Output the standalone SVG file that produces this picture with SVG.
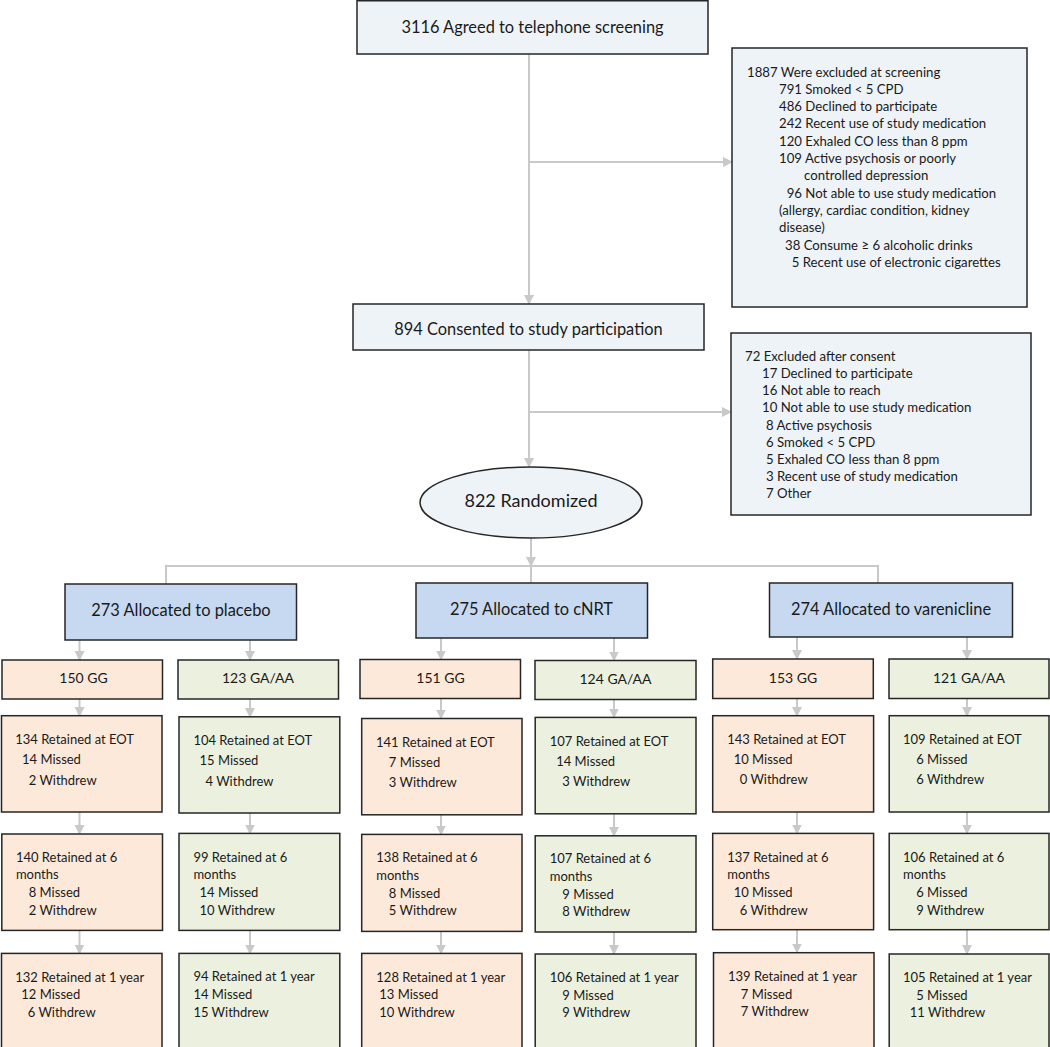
<svg xmlns="http://www.w3.org/2000/svg" width="1050" height="1047" viewBox="0 0 1050 1047">
<style>
  text { font-family: Lato, "Open Sans", "Liberation Sans", sans-serif; fill: #1a1a1a; }
  .box { stroke: #262626; stroke-width: 1.5; }
  .pale { fill: #eef3f8; }
  .alloc { fill: #c6d9f1; }
  .gg { fill: #fde9d9; }
  .ga { fill: #ebf1de; }
  .h { font-size: 16.4px; text-anchor: middle; }
  .m { font-size: 14px; text-anchor: middle; }
  .s { font-size: 13.2px; }
  .l { font-size: 13px; }
  .conn { stroke: #c9c9c9; stroke-width: 2; fill: none; }
</style>
<defs>
  <marker id="arr" markerUnits="userSpaceOnUse" markerWidth="10" markerHeight="10" refX="9" refY="5" orient="auto" viewBox="0 0 10 10">
    <path d="M0,0 L10,5 L0,10 z" fill="#c9c9c9"/>
  </marker>
</defs>

<g id="connectors">
  <path class="conn" d="M529,54 V304" marker-end="url(#arr)"/>
  <path class="conn" d="M529,162 H732" marker-end="url(#arr)"/>
  <path class="conn" d="M529,350 V467" marker-end="url(#arr)"/>
  <path class="conn" d="M529,412 H731" marker-end="url(#arr)"/>
  <path class="conn" d="M531,538 V566" marker-end="url(#arr)"/>
  <path class="conn" d="M166,584 V566 H878 V583"/>
  <path class="conn" d="M531,566 V583"/>
  <path class="conn" d="M79.5,640 V660" marker-end="url(#arr)"/>
  <path class="conn" d="M250,640 V660" marker-end="url(#arr)"/>
  <path class="conn" d="M441,638 V659.5" marker-end="url(#arr)"/>
  <path class="conn" d="M614,638 V660.5" marker-end="url(#arr)"/>
  <path class="conn" d="M797,637 V659" marker-end="url(#arr)"/>
  <path class="conn" d="M967,637 V659" marker-end="url(#arr)"/>
  <path class="conn" d="M79.5,699 V716" marker-end="url(#arr)"/>
  <path class="conn" d="M250,699 V717" marker-end="url(#arr)"/>
  <path class="conn" d="M441,698.5 V718.5" marker-end="url(#arr)"/>
  <path class="conn" d="M614,699.5 V717.5" marker-end="url(#arr)"/>
  <path class="conn" d="M797,698.5 V716" marker-end="url(#arr)"/>
  <path class="conn" d="M967,698.5 V716" marker-end="url(#arr)"/>
  <path class="conn" d="M79.5,812 V834" marker-end="url(#arr)"/>
  <path class="conn" d="M250,813 V833.5" marker-end="url(#arr)"/>
  <path class="conn" d="M441,815 V834.5" marker-end="url(#arr)"/>
  <path class="conn" d="M614,814 V836" marker-end="url(#arr)"/>
  <path class="conn" d="M797,812 V833.5" marker-end="url(#arr)"/>
  <path class="conn" d="M967,812 V833.5" marker-end="url(#arr)"/>
  <path class="conn" d="M79.5,930.5 V953.5" marker-end="url(#arr)"/>
  <path class="conn" d="M250,930.5 V953.5" marker-end="url(#arr)"/>
  <path class="conn" d="M441,931.5 V953.5" marker-end="url(#arr)"/>
  <path class="conn" d="M614,932 V954" marker-end="url(#arr)"/>
  <path class="conn" d="M797,930 V952.5" marker-end="url(#arr)"/>
  <path class="conn" d="M967,930 V954" marker-end="url(#arr)"/>
</g>

<g id="screening">
  <rect class="box pale" x="357" y="0.75" width="351" height="53.25"/>
  <text class="h" x="532.5" y="33">3116 Agreed to telephone screening</text>
</g>

<g id="excluded-screening">
  <rect class="box pale" x="732" y="48" width="295" height="259"/>
  <text class="s" x="747" y="76.5">1887 Were excluded at screening</text>
  <text class="s" x="779" y="93.8">791 Smoked &lt; 5 CPD</text>
  <text class="s" x="779" y="111.1">486 Declined to participate</text>
  <text class="s" x="779" y="128.4">242 Recent use of study medication</text>
  <text class="s" x="779" y="145.7">120 Exhaled CO less than 8 ppm</text>
  <text class="s" x="779" y="163">109 Active psychosis or poorly</text>
  <text class="s" x="804" y="180.3">controlled depression</text>
  <text class="s" x="786.7" y="197.6">96 Not able to use study medication</text>
  <text class="s" x="779" y="214.9">(allergy, cardiac condition, kidney</text>
  <text class="s" x="779" y="232.2">disease)</text>
  <text class="s" x="785" y="249.5">38 Consume ≥ 6 alcoholic drinks</text>
  <text class="s" x="791.7" y="266.8">5 Recent use of electronic cigarettes</text>
</g>

<g id="consented">
  <rect class="box pale" x="353" y="304" width="351" height="46"/>
  <text class="h" x="528.5" y="335">894 Consented to study participation</text>
</g>

<g id="excluded-consent">
  <rect class="box pale" x="731" y="333" width="300" height="182"/>
  <text class="s" x="745" y="360.7">72 Excluded after consent</text>
  <text class="s" x="762" y="377.9">17 Declined to participate</text>
  <text class="s" x="762" y="395.1">16 Not able to reach</text>
  <text class="s" x="762" y="412.3">10 Not able to use study medication</text>
  <text class="s" x="766" y="429.5">8 Active psychosis</text>
  <text class="s" x="766" y="446.7">6 Smoked &lt; 5 CPD</text>
  <text class="s" x="766" y="463.9">5 Exhaled CO less than 8 ppm</text>
  <text class="s" x="766" y="481.1">3 Recent use of study medication</text>
  <text class="s" x="766" y="498.3">7 Other</text>
</g>

<g id="randomized">
  <ellipse class="box pale" cx="531" cy="502.5" rx="111" ry="35.5"/>
  <text class="h" x="531" y="506.5" style="font-size:18px">822 Randomized</text>
</g>

<g id="placebo">
  <rect class="box alloc" x="65" y="584" width="231.5" height="56"/>
  <text class="h" x="181" y="616">273 Allocated to placebo</text>
</g>
<g id="cnrt">
  <rect class="box alloc" x="416" y="583" width="231.5" height="55"/>
  <text class="h" x="531.5" y="615">275 Allocated to cNRT</text>
</g>
<g id="varenicline">
  <rect class="box alloc" x="769.5" y="583" width="243" height="54"/>
  <text class="h" x="891" y="614.5">274 Allocated to varenicline</text>
</g>

<g id="placebo-gg">
  <rect class="box gg" x="2" y="660" width="160.5" height="39"/>
  <text class="m" x="83.5" y="683">150 GG</text>
</g>
<g id="placebo-ga">
  <rect class="box ga" x="178" y="660" width="160.5" height="39"/>
  <text class="m" x="258" y="683">123 GA/AA</text>
</g>
<g id="cnrt-gg">
  <rect class="box gg" x="360" y="659.5" width="160.5" height="39"/>
  <text class="m" x="440.5" y="682.5">151 GG</text>
</g>
<g id="cnrt-ga">
  <rect class="box ga" x="535" y="660.5" width="161" height="39"/>
  <text class="m" x="615.5" y="683.5">124 GA/AA</text>
</g>
<g id="varenicline-gg">
  <rect class="box gg" x="712.7" y="659" width="160.6" height="39.5"/>
  <text class="m" x="793" y="682.5">153 GG</text>
</g>
<g id="varenicline-ga">
  <rect class="box ga" x="889" y="659" width="160" height="39.5"/>
  <text class="m" x="969" y="682.5">121 GA/AA</text>
</g>

<g id="placebo-gg-eot">
  <rect class="box gg" x="1.5" y="715.7" width="160.5" height="96.3"/>
  <text class="l" x="15.2" y="744.2">134 Retained at EOT</text>
  <text class="l" x="22" y="764.2">14 Missed</text>
  <text class="l" x="28.7" y="784.5">2 Withdrew</text>
</g>
<g id="placebo-ga-eot">
  <rect class="box ga" x="179" y="716.8" width="160.8" height="96.2"/>
  <text class="l" x="193.4" y="744.9">104 Retained at EOT</text>
  <text class="l" x="199.5" y="765.2">15 Missed</text>
  <text class="l" x="205.5" y="785.5">4 Withdrew</text>
</g>
<g id="cnrt-gg-eot">
  <rect class="box gg" x="361.7" y="718.5" width="160.3" height="96.3"/>
  <text class="l" x="376" y="746.5">141 Retained at EOT</text>
  <text class="l" x="388.8" y="766.5">7 Missed</text>
  <text class="l" x="388.8" y="786.9">3 Withdrew</text>
</g>
<g id="cnrt-ga-eot">
  <rect class="box ga" x="535.2" y="717.4" width="160.8" height="96.4"/>
  <text class="l" x="549.7" y="745.5">107 Retained at EOT</text>
  <text class="l" x="556.2" y="765.5">14 Missed</text>
  <text class="l" x="562.3" y="785.8">3 Withdrew</text>
</g>
<g id="varenicline-gg-eot">
  <rect class="box gg" x="712.7" y="715.7" width="160.9" height="96.3"/>
  <text class="l" x="727.2" y="743.9">143 Retained at EOT</text>
  <text class="l" x="733.7" y="763.9">10 Missed</text>
  <text class="l" x="739.7" y="784.2">0 Withdrew</text>
</g>
<g id="varenicline-ga-eot">
  <rect class="box ga" x="889.2" y="715.7" width="159.8" height="96.3"/>
  <text class="l" x="903" y="743.9">109 Retained at EOT</text>
  <text class="l" x="916.2" y="763.9">6 Missed</text>
  <text class="l" x="916.2" y="784.2">6 Withdrew</text>
</g>

<g id="placebo-gg-6m">
  <rect class="box gg" x="1.8" y="834" width="160.7" height="96.4"/>
  <text class="l" x="15.9" y="861.5">140 Retained at 6</text>
  <text class="l" x="15.9" y="879.1">months</text>
  <text class="l" x="28.7" y="896.9">8 Missed</text>
  <text class="l" x="28.7" y="914.5">2 Withdrew</text>
</g>
<g id="placebo-ga-6m">
  <rect class="box ga" x="179" y="833.4" width="160.8" height="97"/>
  <text class="l" x="193.4" y="861.5">99 Retained at 6</text>
  <text class="l" x="193.4" y="879.1">months</text>
  <text class="l" x="199.5" y="896.9">14 Missed</text>
  <text class="l" x="199.5" y="914.5">10 Withdrew</text>
</g>
<g id="cnrt-gg-6m">
  <rect class="box gg" x="361.7" y="834.4" width="160.3" height="97"/>
  <text class="l" x="376.3" y="862.2">138 Retained at 6</text>
  <text class="l" x="376.3" y="879.8">months</text>
  <text class="l" x="388.8" y="897.5">8 Missed</text>
  <text class="l" x="388.8" y="915.3">5 Withdrew</text>
</g>
<g id="cnrt-ga-6m">
  <rect class="box ga" x="535.2" y="835.8" width="160.8" height="96.2"/>
  <text class="l" x="549.7" y="863.2">107 Retained at 6</text>
  <text class="l" x="549.7" y="880.8">months</text>
  <text class="l" x="562.3" y="898.5">9 Missed</text>
  <text class="l" x="562.3" y="916.1">8 Withdrew</text>
</g>
<g id="varenicline-gg-6m">
  <rect class="box gg" x="712.7" y="833.4" width="160.9" height="96.3"/>
  <text class="l" x="727.2" y="861.5">137 Retained at 6</text>
  <text class="l" x="727.2" y="879.1">months</text>
  <text class="l" x="733.7" y="896.9">10 Missed</text>
  <text class="l" x="739.7" y="914.5">6 Withdrew</text>
</g>
<g id="varenicline-ga-6m">
  <rect class="box ga" x="889.2" y="833.4" width="159.8" height="96.3"/>
  <text class="l" x="903" y="861.5">106 Retained at 6</text>
  <text class="l" x="903" y="879.1">months</text>
  <text class="l" x="916.2" y="896.9">6 Missed</text>
  <text class="l" x="916.2" y="914.5">9 Withdrew</text>
</g>

<g id="placebo-gg-1y">
  <rect class="box gg" x="1.5" y="953.4" width="160.5" height="100"/>
  <text class="l" x="15.2" y="981.5">132 Retained at 1 year</text>
  <text class="l" x="21.3" y="999.1">12 Missed</text>
  <text class="l" x="27.7" y="1016.5">6 Withdrew</text>
</g>
<g id="placebo-ga-1y">
  <rect class="box ga" x="179" y="953.4" width="160.8" height="100"/>
  <text class="l" x="193.4" y="981.2">94 Retained at 1 year</text>
  <text class="l" x="193.4" y="998.8">14 Missed</text>
  <text class="l" x="193.4" y="1016.5">15 Withdrew</text>
</g>
<g id="cnrt-gg-1y">
  <rect class="box gg" x="361.7" y="953.4" width="160.3" height="100"/>
  <text class="l" x="376.3" y="981.5">128 Retained at 1 year</text>
  <text class="l" x="379.3" y="999.1">13 Missed</text>
  <text class="l" x="379.3" y="1016.5">10 Withdrew</text>
</g>
<g id="cnrt-ga-1y">
  <rect class="box ga" x="535.2" y="954" width="160.8" height="100"/>
  <text class="l" x="549.7" y="981.9">106 Retained at 1 year</text>
  <text class="l" x="562.3" y="999.5">9 Missed</text>
  <text class="l" x="562.3" y="1017.3">9 Withdrew</text>
</g>
<g id="varenicline-gg-1y">
  <rect class="box gg" x="713.5" y="952.7" width="160.5" height="100"/>
  <text class="l" x="728" y="981.2">139 Retained at 1 year</text>
  <text class="l" x="740.8" y="998.5">7 Missed</text>
  <text class="l" x="740.8" y="1016.1">7 Withdrew</text>
</g>
<g id="varenicline-ga-1y">
  <rect class="box ga" x="889.2" y="954" width="159.8" height="100"/>
  <text class="l" x="903" y="981.9">105 Retained at 1 year</text>
  <text class="l" x="916.2" y="999.5">5 Missed</text>
  <text class="l" x="909.8" y="1017.3">11 Withdrew</text>
</g>
</svg>
